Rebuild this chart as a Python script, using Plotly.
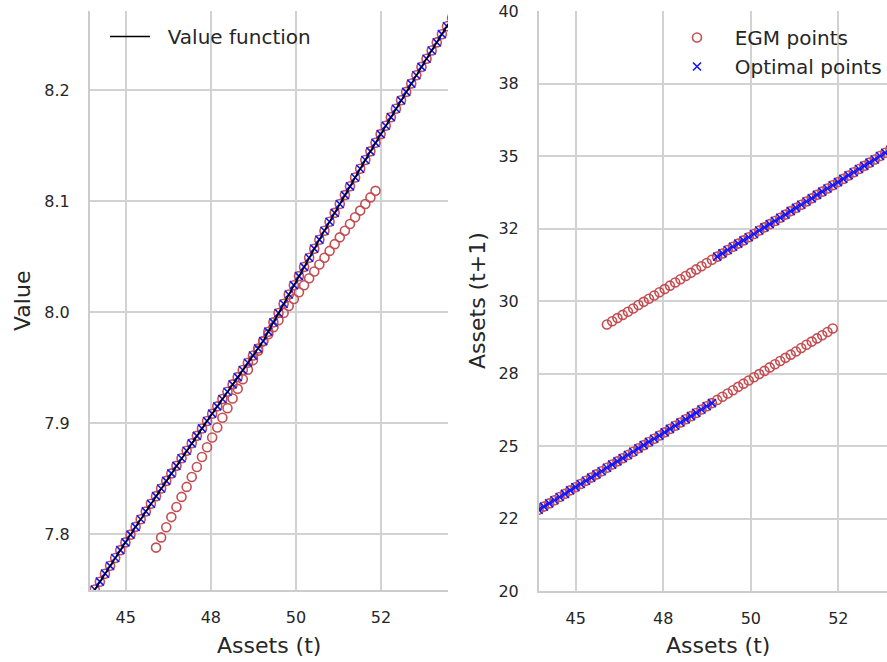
import plotly.graph_objects as go
import pandas as pd

# Endogenous-grid points, low-savings branch: cash on hand, value, next-period assets
egm_lo_m = [43.79, 43.94, 44.09, 44.24, 44.39, 44.54, 44.69, 44.84, 44.99, 45.14,
            45.29, 45.44, 45.59, 45.74, 45.89, 46.04, 46.19, 46.34, 46.49, 46.64,
            46.79, 46.94, 47.09, 47.24, 47.39, 47.54, 47.69, 47.84, 47.99, 48.14,
            48.29, 48.44, 48.59, 48.74, 48.89, 49.04, 49.19, 49.34, 49.49, 49.64,
            49.79, 49.94, 50.09, 50.24, 50.39, 50.54, 50.69, 50.84, 50.99, 51.14,
            51.29, 51.44, 51.59, 51.74, 51.89, 52.04, 52.19, 52.34]
egm_lo_v = [7.7359, 7.7431, 7.7503, 7.7573, 7.7645, 7.7716, 7.7786, 7.7857, 7.7927, 7.7997,
            7.8067, 7.8136, 7.8206, 7.8275, 7.8344, 7.8413, 7.8481, 7.8549, 7.8617, 7.8685,
            7.8753, 7.8820, 7.8887, 7.8954, 7.9021, 7.9087, 7.9153, 7.9219, 7.9285, 7.9351,
            7.9416, 7.9481, 7.9546, 7.9611, 7.9675, 7.9739, 7.9803, 7.9867, 7.9930, 7.9994,
            8.0057, 8.0120, 8.0182, 8.0245, 8.0307, 8.0369, 8.0431, 8.0492, 8.0554, 8.0615,
            8.0676, 8.0736, 8.0797, 8.0857, 8.0917, 8.0977, 8.1036, 8.1095]
egm_lo_a = [22.68, 22.80, 22.91, 23.02, 23.13, 23.24, 23.35, 23.47, 23.58, 23.69,
            23.80, 23.91, 24.02, 24.13, 24.25, 24.36, 24.47, 24.58, 24.69, 24.80,
            24.92, 25.03, 25.14, 25.25, 25.36, 25.47, 25.59, 25.70, 25.81, 25.92,
            26.03, 26.14, 26.26, 26.37, 26.48, 26.59, 26.70, 26.81, 26.92, 27.04,
            27.15, 27.26, 27.37, 27.48, 27.59, 27.71, 27.82, 27.93, 28.04, 28.15,
            28.26, 28.38, 28.49, 28.60, 28.71, 28.82, 28.93, 29.05]

# Endogenous-grid points, high-savings branch
egm_hi_m = [45.89, 46.04, 46.19, 46.34, 46.49, 46.64, 46.79, 46.94, 47.09, 47.24,
            47.39, 47.54, 47.69, 47.84, 47.99, 48.14, 48.29, 48.44, 48.59, 48.74,
            48.89, 49.04, 49.19, 49.34, 49.49, 49.64, 49.79, 49.94, 50.09, 50.24,
            50.39, 50.54, 50.69, 50.84, 50.99, 51.14, 51.29, 51.44, 51.59, 51.74,
            51.89, 52.04, 52.19, 52.34, 52.49, 52.64, 52.79, 52.94, 53.09, 53.24,
            53.39, 53.54, 53.69, 53.84, 53.99, 54.14, 54.29, 54.44, 54.59]
egm_hi_v = [7.7880, 7.7972, 7.8064, 7.8155, 7.8246, 7.8337, 7.8427, 7.8517, 7.8607, 7.8696,
            7.8785, 7.8873, 7.8962, 7.9050, 7.9137, 7.9224, 7.9311, 7.9398, 7.9484, 7.9570,
            7.9655, 7.9741, 7.9826, 7.9910, 7.9994, 8.0078, 8.0161, 8.0245, 8.0327, 8.0410,
            8.0492, 8.0574, 8.0655, 8.0736, 8.0817, 8.0897, 8.0977, 8.1057, 8.1136, 8.1215,
            8.1294, 8.1373, 8.1451, 8.1528, 8.1606, 8.1682, 8.1759, 8.1835, 8.1911, 8.1987,
            8.2062, 8.2137, 8.2212, 8.2286, 8.2360, 8.2433, 8.2507, 8.2579, 8.2652]
egm_hi_a = [29.19, 29.30, 29.41, 29.52, 29.63, 29.74, 29.86, 29.97, 30.08, 30.19,
            30.30, 30.41, 30.53, 30.64, 30.75, 30.86, 30.97, 31.09, 31.20, 31.31,
            31.42, 31.53, 31.64, 31.76, 31.87, 31.98, 32.09, 32.20, 32.31, 32.43,
            32.54, 32.65, 32.76, 32.87, 32.98, 33.10, 33.21, 33.32, 33.43, 33.54,
            33.66, 33.77, 33.88, 33.99, 34.10, 34.21, 34.33, 34.44, 34.55, 34.66,
            34.77, 34.88, 35.00, 35.11, 35.22, 35.33, 35.44, 35.56, 35.67]

# Axis ticks and their printed labels
x_ticks = [45, 47.5, 50, 52.5]
x_tick_text = ["45", "48", "50", "52"]
v_ticks = [7.8, 7.9, 8.0, 8.1, 8.2]
v_tick_text = ["7.8", "7.9", "8.0", "8.1", "8.2"]
a_ticks = [20, 22.5, 25, 27.5, 30, 32.5, 35, 37.5, 40]
a_tick_text = ["20", "22", "25", "28", "30", "32", "35", "38", "40"]

# Upper envelope: at each cash-on-hand point keep the branch with the higher value
lo = pd.DataFrame({"m": egm_lo_m, "v": egm_lo_v, "a": egm_lo_a})
hi = pd.DataFrame({"m": egm_hi_m, "v": egm_hi_v, "a": egm_hi_a})
both = pd.concat([lo, hi]).sort_values(["m", "v"])
opt = both.groupby("m", as_index=False).last()

W, H = 887, 662
RED = "#c44e52"
BLUE = "#1414ff"
TXT = "#262626"
GRID = "#d2d2d2"
FONT = "DejaVu Sans"
PAD = "\u00a0\u00a0"

circle = dict(symbol="circle-open", size=9, color=RED, line=dict(width=1.6, color=RED))
cross = dict(symbol="x-thin", size=8, color=BLUE, line=dict(width=1.6, color=BLUE))


def px_x(p):
    return p / W


def px_y(p):
    return 1 - p / H


fig = go.Figure()

# Left panel: value function
fig.add_trace(go.Scatter(x=egm_lo_m, y=egm_lo_v, mode="markers", showlegend=False,
                         marker=circle, xaxis="x", yaxis="y"))
fig.add_trace(go.Scatter(x=egm_hi_m, y=egm_hi_v, mode="markers", showlegend=False,
                         marker=circle, xaxis="x", yaxis="y"))
fig.add_trace(go.Scatter(x=opt["m"], y=opt["v"], mode="markers", showlegend=False,
                         marker=cross, xaxis="x", yaxis="y"))
fig.add_trace(go.Scatter(x=opt["m"], y=opt["v"], mode="lines", name=PAD + "Value function",
                         line=dict(color="black", width=1.6),
                         xaxis="x", yaxis="y", legend="legend"))

# Right panel: next-period assets
fig.add_trace(go.Scatter(x=egm_lo_m, y=egm_lo_a, mode="markers", name=PAD + "EGM points",
                         marker=circle, xaxis="x2", yaxis="y2",
                         legend="legend2", legendgroup="egm"))
fig.add_trace(go.Scatter(x=egm_hi_m, y=egm_hi_a, mode="markers", name=PAD + "EGM points",
                         showlegend=False, marker=circle, xaxis="x2", yaxis="y2",
                         legend="legend2", legendgroup="egm"))
fig.add_trace(go.Scatter(x=opt["m"], y=opt["a"], mode="markers", name=PAD + "Optimal points",
                         marker=cross, xaxis="x2", yaxis="y2", legend="legend2"))

axis_common = dict(
    showgrid=True, gridcolor=GRID, gridwidth=1.6,
    showline=True, linecolor="#cccccc", linewidth=2,
    zeroline=False, ticks="outside", tickcolor="rgba(0,0,0,0)",
    tickfont=dict(family=FONT, size=16, color=TXT),
    automargin=False,
)

fig.update_layout(
    width=W, height=H,
    margin=dict(l=0, r=0, t=0, b=0),
    paper_bgcolor="white", plot_bgcolor="white",
    font=dict(family=FONT, color=TXT),
    xaxis=dict(domain=[px_x(90), px_x(448)], range=[43.95, 54.47], ticklen=12,
               tickvals=x_ticks, ticktext=x_tick_text, anchor="y", **axis_common),
    yaxis=dict(domain=[px_y(590), px_y(11)], range=[7.7498, 8.2716], ticklen=15,
               tickvals=v_ticks, ticktext=v_tick_text, anchor="x", **axis_common),
    xaxis2=dict(domain=[px_x(539), 1.0], range=[43.95, 53.89], ticklen=12,
                tickvals=x_ticks, ticktext=x_tick_text, anchor="y2", **axis_common),
    yaxis2=dict(domain=[px_y(591), px_y(11)], range=[20, 40], ticklen=15,
                tickvals=a_ticks, ticktext=a_tick_text, anchor="x2", **axis_common),
    legend=dict(x=px_x(105), y=px_y(17), xanchor="left", yanchor="top",
                bgcolor="rgba(0,0,0,0)", font=dict(family=FONT, size=20, color=TXT),
                itemwidth=40, tracegroupgap=0),
    legend2=dict(x=px_x(672), y=px_y(18), xanchor="left", yanchor="top",
                 bgcolor="rgba(0,0,0,0)", font=dict(family=FONT, size=20, color=TXT),
                 itemwidth=40, tracegroupgap=0),
    annotations=[
        dict(text="Assets (t)", x=px_x(269), y=px_y(645), xref="paper", yref="paper",
             showarrow=False, xanchor="center", yanchor="middle",
             font=dict(family=FONT, size=22, color=TXT)),
        dict(text="Assets (t)", x=px_x(718), y=px_y(645), xref="paper", yref="paper",
             showarrow=False, xanchor="center", yanchor="middle",
             font=dict(family=FONT, size=22, color=TXT)),
        dict(text="Value", x=px_x(22), y=px_y(301), xref="paper", yref="paper",
             showarrow=False, xanchor="center", yanchor="middle", textangle=-90,
             font=dict(family=FONT, size=22, color=TXT)),
        dict(text="Assets (t+1)", x=px_x(477), y=px_y(301), xref="paper", yref="paper",
             showarrow=False, xanchor="center", yanchor="middle", textangle=-90,
             font=dict(family=FONT, size=22, color=TXT)),
    ],
)

fig.write_html("out.html")
